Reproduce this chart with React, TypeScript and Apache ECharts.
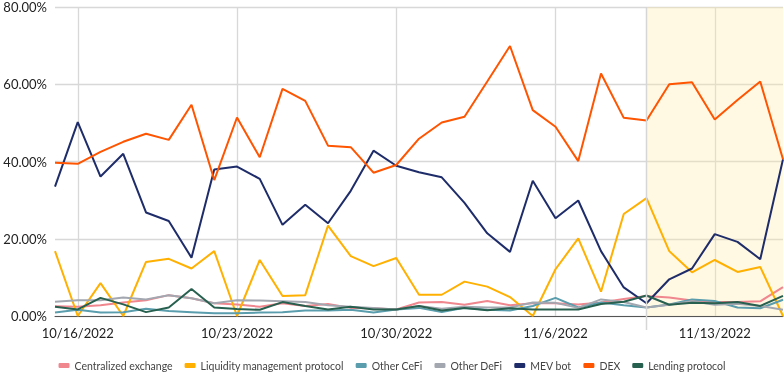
import React, { useEffect, useRef } from "react";
import * as echarts from "echarts";

const dates = [
  "10/15/2022", "10/16/2022", "10/17/2022", "10/18/2022", "10/19/2022", "10/20/2022", "10/21/2022",
  "10/22/2022", "10/23/2022", "10/24/2022", "10/25/2022", "10/26/2022", "10/27/2022", "10/28/2022",
  "10/29/2022", "10/30/2022", "10/31/2022", "11/1/2022", "11/2/2022", "11/3/2022", "11/4/2022",
  "11/5/2022", "11/6/2022", "11/7/2022", "11/8/2022", "11/9/2022", "11/10/2022", "11/11/2022",
  "11/12/2022", "11/13/2022", "11/14/2022", "11/15/2022", "11/16/2022",
];

const centralizedExchange = [2.5, 2.4, 2.8, 3.5, 4.1, 5.4, 4.6, 3.3, 3.0, 2.4, 3.3, 2.6, 3.1, 2.1, 2.0, 1.7, 3.5, 3.6, 2.9, 3.9, 2.8, 3.3, 3.3, 3.0, 3.5, 4.4, 5.2, 4.8, 4.0, 3.6, 3.6, 3.8, 7.5];
const liquidityManagement = [16.8, 0, 8.5, 0, 14.0, 14.8, 12.3, 16.8, 0, 14.5, 5.2, 5.4, 23.4, 15.5, 12.9, 15.0, 5.5, 5.5, 8.9, 7.6, 4.9, 0, 12.1, 20.1, 6.3, 26.4, 30.5, 16.8, 11.3, 14.5, 11.4, 12.7, 0];
const otherCeFi = [0.9, 1.6, 0.9, 1.0, 1.9, 1.3, 1.0, 0.7, 0.7, 0.9, 1.0, 1.4, 1.4, 1.6, 0.9, 1.7, 2.1, 1.0, 2.1, 1.6, 1.4, 2.6, 4.7, 2.2, 3.5, 2.8, 2.2, 3.0, 4.3, 3.9, 2.2, 2.0, 4.2];
const otherDeFi = [3.7, 4.1, 4.1, 4.8, 4.3, 5.4, 4.6, 3.3, 4.1, 4.0, 3.8, 3.6, 2.8, 2.4, 2.1, 1.7, 2.6, 1.9, 2.4, 2.2, 2.2, 3.5, 3.4, 2.1, 4.3, 3.6, 2.2, 2.9, 3.8, 2.9, 3.2, 2.6, 1.6];
const mevBot = [33.5, 50.2, 36.1, 42.0, 26.8, 24.6, 15.1, 37.9, 38.7, 35.5, 23.6, 28.8, 24.0, 32.4, 42.8, 38.9, 37.2, 35.9, 29.3, 21.4, 16.6, 35.0, 25.3, 29.9, 16.8, 7.4, 3.3, 9.5, 12.3, 21.2, 19.2, 14.7, 40.6];
const dex = [39.7, 39.4, 42.5, 45.1, 47.2, 45.6, 54.7, 35.2, 51.4, 41.1, 58.8, 55.7, 44.1, 43.7, 37.1, 39.1, 45.9, 50.1, 51.6, 60.7, 69.9, 53.3, 49.0, 40.1, 62.8, 51.3, 50.6, 60.0, 60.5, 50.9, 55.9, 60.7, 40.6];
const lendingProtocol = [2.4, 1.7, 4.7, 3.0, 1.0, 2.2, 7.0, 2.2, 1.8, 1.6, 3.6, 2.6, 1.7, 2.4, 1.7, 1.7, 2.6, 1.4, 2.1, 1.5, 2.0, 1.7, 1.7, 1.7, 3.1, 3.7, 5.3, 2.9, 3.4, 3.3, 3.6, 2.6, 5.2];

const seriesNames = [
  "Centralized exchange",
  "Liquidity management protocol",
  "Other CeFi",
  "Other DeFi",
  "MEV bot",
  "DEX",
  "Lending protocol",
];
const seriesData = [centralizedExchange, liquidityManagement, otherCeFi, otherDeFi, mevBot, dex, lendingProtocol];
const seriesColors = ["#F0868E", "#FFB000", "#5A9DAD", "#A3A7B0", "#1E2C6A", "#FF5400", "#28604F"];

const weeklyTickDates = ["10/16/2022", "10/23/2022", "10/30/2022", "11/6/2022", "11/13/2022"];
const highlightStart = "11/10/2022";
const highlightEnd = "11/16/2022";
const yTicks = [0, 20, 40, 60, 80];

const FONT = "Lato";

export default function App() {
  const ref = useRef<HTMLDivElement>(null);

  useEffect(() => {
    if (!ref.current) return;
    const chart = echarts.init(ref.current, undefined, { renderer: "svg" });
    const isWeekly = (idx: number) => weeklyTickDates.includes(dates[idx]);

    const lineSeries = seriesNames.map((name, i) => ({
      name,
      type: "line",
      data: seriesData[i],
      symbol: "none",
      lineStyle: { width: 2, color: seriesColors[i] },
      itemStyle: { color: seriesColors[i] },
      z: 2,
    }));

    chart.setOption({
      animation: false,
      textStyle: { fontFamily: FONT },
      grid: { left: 55, right: 1, top: 7, bottom: 76, containLabel: false },
      xAxis: {
        type: "category",
        data: dates,
        boundaryGap: false,
        axisLine: { show: true, lineStyle: { color: "#555", width: 1 } },
        axisTick: { show: false },
        axisLabel: {
          interval: (idx: number) => isWeekly(idx),
          color: "#222",
          fontSize: 13,
          fontFamily: FONT,
          margin: 10,
        },
        splitLine: {
          show: true,
          interval: (idx: number) => isWeekly(idx),
          lineStyle: { color: "#d8d8d8", width: 1.3 },
        },
      },
      yAxis: {
        type: "value",
        min: yTicks[0],
        max: yTicks[yTicks.length - 1],
        interval: 20,
        axisLine: { show: false },
        axisTick: { show: false },
        axisLabel: {
          formatter: (v: number) => v.toFixed(2) + "%",
          color: "#222",
          fontSize: 13,
          fontFamily: FONT,
          margin: 8,
        },
        splitLine: { lineStyle: { color: "#d8d8d8", width: 1.3 } },
      },
      legend: {
        data: seriesNames,
        top: 355,
        left: "center",
        icon: "roundRect",
        itemWidth: 11,
        itemHeight: 5,
        itemGap: 12,
        textStyle: { color: "#444", fontSize: 10.5, fontFamily: FONT },
      },
      series: [
        ...lineSeries,
        {
          name: "highlight",
          type: "line",
          data: [],
          z: 5,
          silent: true,
          markArea: {
            silent: true,
            itemStyle: { color: "rgba(255,232,168,0.32)" },
            data: [[{ xAxis: highlightStart }, { xAxis: highlightEnd }]],
          },
        },
      ],
    });

    const x = chart.convertToPixel({ xAxisIndex: 0 }, highlightStart) as number;
    const yTop = chart.convertToPixel({ yAxisIndex: 0 }, yTicks[yTicks.length - 1]) as number;
    const yBottom = chart.convertToPixel({ yAxisIndex: 0 }, yTicks[0]) as number;
    chart.setOption({
      graphic: [
        {
          type: "line",
          z: 10,
          silent: true,
          shape: { x1: x, y1: yTop, x2: x, y2: yBottom + 14 },
          style: { stroke: "#d6d6d6", lineWidth: 1.5 },
        },
      ],
    });

    return () => chart.dispose();
  }, []);

  return (
    <div
      ref={ref}
      style={{ position: "fixed", left: 0, top: 0, width: 784, height: 392 }}
    />
  );
}
